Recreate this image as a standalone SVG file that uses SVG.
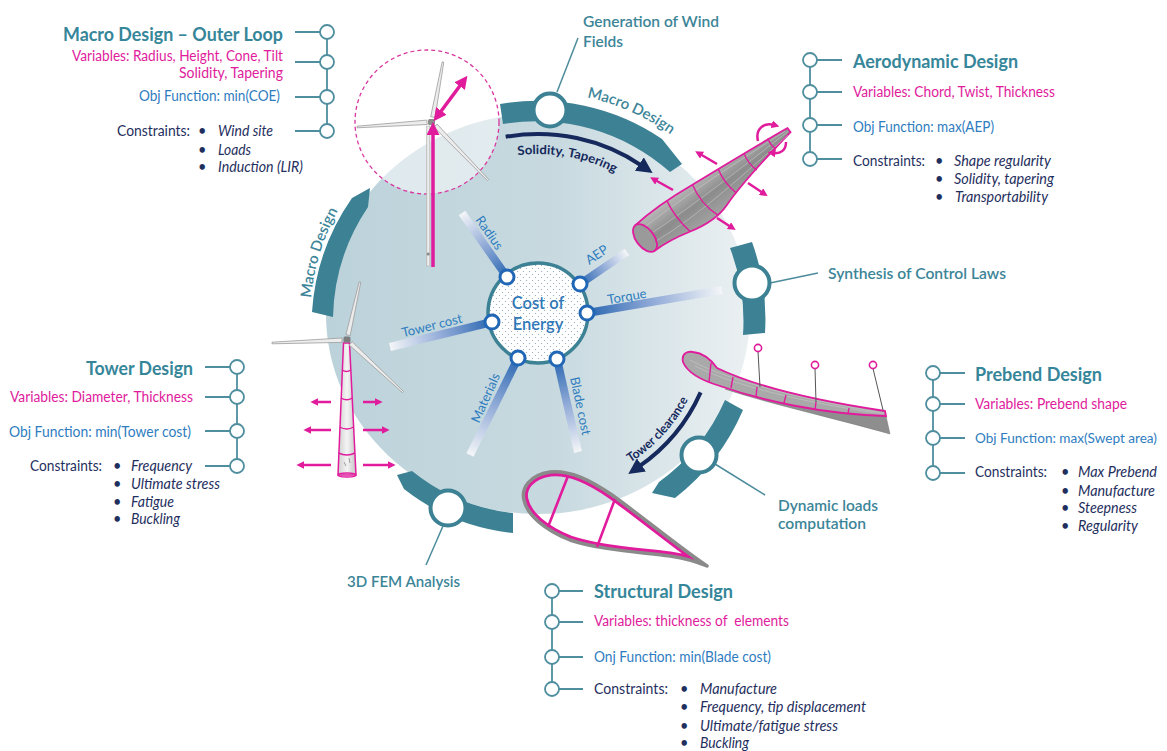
<svg xmlns="http://www.w3.org/2000/svg" width="1167" height="751" viewBox="0 0 1167 751" font-family="Lato, 'Liberation Sans', sans-serif">
<defs>
<style>
.title{font-size:18px;font-weight:700;fill:#36869a}
.var{font-size:14.5px;fill:#e01b9c}
.obj{font-size:14.5px;fill:#2f7dbf}
.con{font-size:14.5px;fill:#1f2f5e}
.it{font-size:14.5px;fill:#1f2f5e;font-style:italic}
.lbl{font-size:16px;font-weight:600;fill:#3c8598}
.spk{font-size:13px;fill:#2f7dbf}
.arrtxt{font-size:12.5px;font-weight:700;fill:#15295c}
.stub{stroke:#4e8e9e;stroke-width:1.8;fill:none}
.dot{fill:#fff;stroke:#4e8e9e;stroke-width:1.8}
.band{fill:#3c8194}
.rnode{fill:#fff;stroke:#3c8194;stroke-width:4}
.lead{stroke:#4b8b9b;stroke-width:1.5;fill:none}
.mag{stroke:#e01b9c;stroke-width:2.5;fill:none}
.hubnode{fill:#fff;stroke:#2167b5;stroke-width:3}
.spoke{stroke-width:8;fill:none}
.blade{fill:#ececec;stroke:#9c9c9c;stroke-width:0.8}
.sect{stroke:#e01b9c;stroke-width:1.4;fill:none}
.mesh{stroke:#d0d0d0;stroke-width:0.6;fill:none;opacity:0.8}
</style>
<linearGradient id="diskFill" x1="0" y1="0.5" x2="1" y2="0.5">
<stop offset="0" stop-color="#bcd2da"/>
<stop offset="0.55" stop-color="#c8dae0"/>
<stop offset="1" stop-color="#ebf0f2"/>
</linearGradient>
<pattern id="dots" width="6" height="6" patternUnits="userSpaceOnUse">
<rect width="6" height="6" fill="#fff"/>
<circle cx="1.5" cy="1.5" r="0.6" fill="#8aa3b5"/>
<circle cx="4.5" cy="4.5" r="0.6" fill="#8aa3b5"/>
</pattern>
<linearGradient id="spBase">
<stop offset="0" stop-color="#2a67b1"/>
<stop offset="0.5" stop-color="#93acd8"/>
<stop offset="1" stop-color="#f4f6f8"/>
</linearGradient>
<linearGradient id="sp1" href="#spBase" gradientUnits="userSpaceOnUse" x1="507" y1="277" x2="462" y2="213"/>
<linearGradient id="sp2" href="#spBase" gradientUnits="userSpaceOnUse" x1="580" y1="284" x2="627" y2="252"/>
<linearGradient id="sp3" href="#spBase" gradientUnits="userSpaceOnUse" x1="587" y1="313" x2="722" y2="290"/>
<linearGradient id="sp4" href="#spBase" gradientUnits="userSpaceOnUse" x1="492" y1="322" x2="390" y2="347"/>
<linearGradient id="sp5" href="#spBase" gradientUnits="userSpaceOnUse" x1="518" y1="358" x2="470" y2="455"/>
<linearGradient id="sp6" href="#spBase" gradientUnits="userSpaceOnUse" x1="557" y1="359" x2="578" y2="452"/>
<linearGradient id="bladeGray" x1="0" y1="0" x2="0" y2="1">
<stop offset="0" stop-color="#b8b8b8"/>
<stop offset="0.5" stop-color="#8c8c8c"/>
<stop offset="1" stop-color="#a2a2a2"/>
</linearGradient>
<linearGradient id="towerGray" x1="0" y1="0" x2="1" y2="0">
<stop offset="0" stop-color="#cfcfcf"/>
<stop offset="0.5" stop-color="#f4f4f4"/>
<stop offset="1" stop-color="#c4c4c4"/>
</linearGradient>
<clipPath id="foilClip">
<path d="M707,566 C680,548 640,515 612,495 C590,480 570,470 550,472 C530,475 521,488 524,500 C527,515 545,530 570,540 C600,550 640,552 670,556 C690,559 700,563 707,566 Z"/>
</clipPath>
<marker id="mg" viewBox="0 0 10 10" refX="3" refY="5" markerWidth="8" markerHeight="8" markerUnits="userSpaceOnUse" orient="auto-start-reverse">
<path d="M0,0 L10,5 L0,10 Z" fill="#e01b9c"/>
</marker>
<marker id="mgL" viewBox="0 0 10 10" refX="3" refY="5" markerWidth="13" markerHeight="13" markerUnits="userSpaceOnUse" orient="auto-start-reverse">
<path d="M0,0 L10,5 L0,10 Z" fill="#e01b9c"/>
</marker>
<marker id="nv" viewBox="0 0 10 10" refX="2" refY="5" markerWidth="16" markerHeight="16" markerUnits="userSpaceOnUse" orient="auto">
<path d="M0,0 L10,5 L0,10 Z" fill="#15295c"/>
</marker>
<path id="arcMacroTop" d="M587,97.3 A228,228 0 0 1 690.6,150.6"/>
<path id="arcMacroLeft" d="M311.1,298.1 A228,228 0 0 1 351.2,189.2"/>
<path id="arcSol" d="M517.8,155.2 A166,166 0 0 1 630.8,182.4"/>
<path id="arcTC" d="M630.6,462.6 A170,170 0 0 0 695.6,383.7"/>
</defs>

<rect width="1167" height="751" fill="#fff"/>

<!-- main disk -->
<g id="disk">
<ellipse cx="538" cy="314" rx="212" ry="200" fill="url(#diskFill)"/>
</g>

<!-- swept-area circle of the rotor -->
<g id="swept-area">
<circle cx="427" cy="122" r="72" fill="#fff" fill-opacity="0.5" stroke="#d8379f" stroke-width="1.3" stroke-dasharray="4 3"/>
</g>

<!-- outer ring segments -->
<g id="ring">
<path class="band" d="M500,104 A221,221 0 0 1 662,139 L682,164 L670,172 A201,201 0 0 0 503,124 Z"/>
<path class="band" d="M312,312 A225,225 0 0 1 352,198 L370,188 L368,207 A205,205 0 0 0 333,317 Z"/>
<path class="band" d="M752,242 A227,227 0 0 1 765,333 L743,335 A205,205 0 0 0 730,248 Z"/>
<path class="band" d="M743,410 A223,223 0 0 1 675,498 L652,493 L659,482 A201,201 0 0 0 725,400 Z"/>
<path class="band" d="M513,533 A212,212 0 0 1 404,489 L397,475 L412,471 A195,195 0 0 0 513,513 Z"/>
<text class="lbl" style="font-size:15px"><textPath href="#arcMacroTop" textLength="92" lengthAdjust="spacingAndGlyphs">Macro Design</textPath></text>
<text class="lbl" style="font-size:15px"><textPath href="#arcMacroLeft" textLength="92" lengthAdjust="spacingAndGlyphs">Macro Design</textPath></text>
</g>

<!-- connectors: leader lines and hub spokes -->
<g id="connectors">
<line class="lead" x1="557" y1="92" x2="578" y2="38"/>
<line class="lead" x1="770" y1="283" x2="818" y2="273"/>
<line class="lead" x1="715" y1="464" x2="765" y2="495"/>
<line class="lead" x1="443" y1="526" x2="426" y2="565"/>
<line class="spoke" stroke="url(#sp1)" x1="507" y1="277" x2="462" y2="213"/>
<line class="spoke" stroke="url(#sp2)" x1="580" y1="284" x2="627" y2="252"/>
<line class="spoke" stroke="url(#sp3)" x1="587" y1="313" x2="722" y2="290"/>
<line class="spoke" stroke="url(#sp4)" x1="492" y1="322" x2="390" y2="347"/>
<line class="spoke" stroke="url(#sp5)" x1="518" y1="358" x2="470" y2="455"/>
<line class="spoke" stroke="url(#sp6)" x1="557" y1="359" x2="578" y2="452"/>
</g>

<!-- ring stations -->
<g id="node-wind-fields">
<circle class="rnode" cx="550" cy="110" r="16.5"/>
<text class="lbl" x="583" y="26.5" textLength="136" lengthAdjust="spacingAndGlyphs">Generation of Wind</text>
<text class="lbl" x="583" y="46.5" textLength="40" lengthAdjust="spacingAndGlyphs">Fields</text>
</g>
<g id="node-control-laws">
<circle class="rnode" cx="752" cy="283" r="17.5"/>
<text class="lbl" x="828" y="279" textLength="178" lengthAdjust="spacingAndGlyphs">Synthesis of Control Laws</text>
</g>
<g id="node-dynamic-loads">
<circle class="rnode" cx="699" cy="455" r="17.5"/>
<text class="lbl" x="778" y="510.5" textLength="100" lengthAdjust="spacingAndGlyphs">Dynamic loads</text>
<text class="lbl" x="778" y="528.5" textLength="88" lengthAdjust="spacingAndGlyphs">computation</text>
</g>
<g id="node-fem">
<circle class="rnode" cx="448" cy="508" r="17.5"/>
<text class="lbl" x="347" y="586.5" textLength="113" lengthAdjust="spacingAndGlyphs">3D FEM Analysis</text>
</g>

<!-- central hub -->
<g id="hub">
<circle cx="538" cy="313" r="50" fill="url(#dots)" stroke="#3c8194" stroke-width="3.5"/>
<text x="538" y="309" text-anchor="middle" font-size="16.5" font-weight="600" fill="#2f78b8">Cost of</text>
<text x="538" y="329.5" text-anchor="middle" font-size="16.5" font-weight="600" fill="#2f78b8">Energy</text>
<circle class="hubnode" cx="507" cy="277" r="7"/>
<circle class="hubnode" cx="580" cy="284" r="7"/>
<circle class="hubnode" cx="587" cy="313" r="7"/>
<circle class="hubnode" cx="492" cy="322" r="7"/>
<circle class="hubnode" cx="518" cy="358" r="7"/>
<circle class="hubnode" cx="557" cy="359" r="7"/>
<text class="spk" text-anchor="middle" dy="4" transform="translate(489,233) rotate(55)">Radius</text>
<text class="spk" text-anchor="middle" dy="4" transform="translate(597,255) rotate(-34)">AEP</text>
<text class="spk" text-anchor="middle" dy="4" transform="translate(627,297) rotate(-10)">Torque</text>
<text class="spk" text-anchor="middle" dy="4" transform="translate(432,326) rotate(-14)">Tower cost</text>
<text class="spk" text-anchor="middle" dy="4" transform="translate(486,398) rotate(-66)">Materials</text>
<text class="spk" text-anchor="middle" dy="4" transform="translate(580,406) rotate(78)">Blade cost</text>
</g>

<!-- curved arrows inside the disk -->
<g id="arrow-solidity">
<path d="M505.7,136.8 A186,186 0 0 1 642,165.8" stroke="#15295c" stroke-width="4" fill="none" marker-end="url(#nv)"/>
<text class="arrtxt"><textPath href="#arcSol" textLength="100" lengthAdjust="spacingAndGlyphs">Solidity, Tapering</textPath></text>
</g>
<g id="arrow-clearance">
<path d="M700.6,392.4 A178,178 0 0 1 638.8,466.7" stroke="#15295c" stroke-width="4" fill="none" marker-end="url(#nv)"/>
<text class="arrtxt"><textPath href="#arcTC" textLength="86" lengthAdjust="spacingAndGlyphs">Tower clearance</textPath></text>
</g>

<!-- rotor with radius and height arrows -->
<g id="rotor">
<rect x="426.5" y="126" width="3.5" height="140" fill="url(#towerGray)" stroke="#b0b0b0" stroke-width="0.5"/>
<circle cx="428.2" cy="254" r="1.6" fill="#8a8a8a"/>
<polygon class="blade" points="430.7,116.7 435.1,117.5 443.8,62.1 442.2,61.9"/>
<polygon class="blade" points="426.8,120.1 427.2,124.5 357,127.8 357,126.2"/>
<polygon class="blade" points="433.9,127.1 437.1,124.1 488.6,179.4 487.4,180.6"/>
<rect x="428" y="119" width="7" height="6" rx="1.5" fill="#8d8d8d"/>
<line x1="433" y1="267" x2="433" y2="131" stroke="#e01b9c" stroke-width="3.5" marker-end="url(#mgL)"/>
<line x1="439" y1="114" x2="462" y2="83" stroke="#e01b9c" stroke-width="3.5" marker-start="url(#mgL)" marker-end="url(#mgL)"/>
</g>

<!-- tower turbine -->
<g id="tower-turbine">
<polygon points="343.5,343 349.5,343 356,475 338,475" fill="url(#towerGray)" stroke="#e01b9c" stroke-width="1.5"/>
<path class="sect" d="M342.2,370 Q346.5,373 350.8,370 M341,398 Q347,401.5 352.2,398 M339.6,427 Q347,431 353.6,427 M338.4,453 Q347,457 355,453"/>
<ellipse cx="347" cy="475" rx="9" ry="2" fill="none" stroke="#e01b9c" stroke-width="1.3"/>
<path d="M344,462 l2,4 M349,458 l1,5" stroke="#888" stroke-width="0.8"/>
<polygon class="blade" points="350.2,335.6 345.9,334.6 359.2,281.8 360.8,282.2"/>
<polygon class="blade" points="341.9,338 342.1,342.4 272,343.8 272,342.2"/>
<polygon class="blade" points="349.2,345 352.2,341.8 403.5,391.4 402.5,392.6"/>
<rect x="343.5" y="336.5" width="7" height="6" rx="1.5" fill="#7d7d7d"/>
<line class="mag" x1="331" y1="402" x2="316" y2="402" marker-end="url(#mg)"/>
<line class="mag" x1="363" y1="402" x2="377" y2="402" marker-end="url(#mg)"/>
<line class="mag" x1="331" y1="430" x2="309" y2="430" marker-end="url(#mg)"/>
<line class="mag" x1="363" y1="430" x2="384" y2="430" marker-end="url(#mg)"/>
<line class="mag" x1="331" y1="465" x2="302" y2="465" marker-end="url(#mg)"/>
<line class="mag" x1="363" y1="465" x2="390" y2="465" marker-end="url(#mg)"/>
</g>

<!-- aerodynamic blade -->
<g id="aero-blade">
<g transform="translate(645,238) rotate(-37)">
<path d="M0,-16 C20,-18 45,-17 70,-14 C110,-10 150,-6 180,-2 L180,3 C150,8 115,13 85,23 C70,28 55,26 40,22 C25,18 10,16 0,16 Z" fill="url(#bladeGray)" stroke="#e01b9c" stroke-width="1.8"/>
<path class="mesh" d="M5,-9 C60,-10 120,-5 176,-1 M5,0 C60,3 120,2 178,1 M5,9 C60,15 120,8 176,4"/>
<path class="sect" d="M40,-17 Q36,2 40,22 M70,-14 Q65,6 72,26 M100,-11 Q96,3 100,19 M130,-8 Q127,2 130,13 M158,-5.5 Q156,1 158,8"/>
<ellipse cx="0" cy="0" rx="9" ry="16" fill="#9a9a9a" stroke="#e01b9c" stroke-width="1.8"/>
</g>
<line class="mag" x1="717" y1="164" x2="700" y2="154" marker-end="url(#mg)"/>
<line class="mag" x1="673" y1="190" x2="655" y2="180" marker-end="url(#mg)"/>
<line class="mag" x1="748" y1="183" x2="763" y2="193" marker-end="url(#mg)"/>
<line class="mag" x1="717" y1="218" x2="731" y2="227" marker-end="url(#mg)"/>
<path class="mag" d="M758,141 C755,129 764,122 774,125" marker-end="url(#mg)"/>
<path class="mag" d="M786,142 C786,150 781,154 773,153" marker-end="url(#mg)"/>
</g>

<!-- prebend blade -->
<g id="prebend-blade">
<path d="M725,389 C770,404 830,417 890,434 L886,416 C820,414 770,402 725,389 Z" fill="#8e8e8e" stroke="#777" stroke-width="0.5"/>
<path d="M683,362 C681,353 688,351 693,352 C702,353 710,358 717,368 C740,379 790,397 885,411 L886,416 C820,414 760,400 720,386 C700,380 687,372 683,362 Z" fill="#a9a9a9" stroke="#e01b9c" stroke-width="1.8"/>
<path class="mesh" d="M690,360 C720,376 780,396 884,413 M695,366 C725,381 785,400 884,414"/>
<path class="sect" d="M711,363 L709,382 M733,377 L731,388 M757,387 L756,397 M786,395 L784,403 M816,402 L815,410 M849,408 L848,414"/>
<line x1="758" y1="351.5" x2="760" y2="387" stroke="#555" stroke-width="1"/>
<line x1="815" y1="368.5" x2="816" y2="402" stroke="#555" stroke-width="1"/>
<line x1="873" y1="368.5" x2="883" y2="410" stroke="#555" stroke-width="1"/>
<circle cx="758" cy="348" r="3.6" fill="#fff" stroke="#e01b9c" stroke-width="1.6"/>
<circle cx="815" cy="365" r="3.6" fill="#fff" stroke="#e01b9c" stroke-width="1.6"/>
<circle cx="873" cy="365" r="3.6" fill="#fff" stroke="#e01b9c" stroke-width="1.6"/>
</g>

<!-- structural airfoil section -->
<g id="airfoil">
<path d="M707,566 C680,548 640,515 612,495 C590,480 570,470 550,472 C530,475 521,488 524,500 C527,515 545,530 570,540 C600,550 640,552 670,556 C690,559 700,563 707,566 Z" fill="none" stroke="#e01b9c" stroke-width="9" clip-path="url(#foilClip)"/>
<path d="M707,566 C680,548 640,515 612,495 C590,480 570,470 550,472 C530,475 521,488 524,500 C527,515 545,530 570,540 C600,550 640,552 670,556 C690,559 700,563 707,566 Z" fill="none" stroke="#8a8a8a" stroke-width="3.5" stroke-linejoin="round"/>
<line x1="568" y1="476" x2="548" y2="527" stroke="#e01b9c" stroke-width="2.6"/>
<line x1="615" y1="499" x2="597" y2="547" stroke="#e01b9c" stroke-width="2.6"/>
</g>

<!-- design blocks -->
<g id="macro-design">
<path class="stub" d="M327,32 V131 M295,32 H320 M295,62 H320 M295,97 H320 M295,131 H320"/>
<circle class="dot" cx="327" cy="32" r="7"/>
<circle class="dot" cx="327" cy="62" r="7"/>
<circle class="dot" cx="327" cy="97" r="7"/>
<circle class="dot" cx="327" cy="131" r="7"/>
<text class="title" x="63" y="40.5" textLength="220" lengthAdjust="spacingAndGlyphs">Macro Design – Outer Loop</text>
<text class="var" x="72" y="61" textLength="211" lengthAdjust="spacingAndGlyphs">Variables: Radius, Height, Cone, Tilt</text>
<text class="var" x="179" y="78" textLength="104" lengthAdjust="spacingAndGlyphs">Solidity, Tapering</text>
<text class="obj" x="139" y="101" textLength="141" lengthAdjust="spacingAndGlyphs">Obj Function: min(COE)</text>
<text class="con" x="117" y="136" textLength="73" lengthAdjust="spacingAndGlyphs">Constraints:</text>
<text class="con" x="198" y="136">•</text>
<text class="con" x="198" y="155">•</text>
<text class="con" x="198" y="172">•</text>
<text class="it" x="218" y="136" textLength="55" lengthAdjust="spacingAndGlyphs">Wind site</text>
<text class="it" x="218" y="155" textLength="33" lengthAdjust="spacingAndGlyphs">Loads</text>
<text class="it" x="218" y="172" textLength="85" lengthAdjust="spacingAndGlyphs">Induction (LIR)</text>
</g>

<g id="aerodynamic-design">
<path class="stub" d="M810,60 V159 M817,60 H842 M817,92 H842 M817,125 H842 M817,159 H842"/>
<circle class="dot" cx="810" cy="60" r="7"/>
<circle class="dot" cx="810" cy="92" r="7"/>
<circle class="dot" cx="810" cy="125" r="7"/>
<circle class="dot" cx="810" cy="159" r="7"/>
<text class="title" x="853" y="68" textLength="165" lengthAdjust="spacingAndGlyphs">Aerodynamic Design</text>
<text class="var" x="853" y="97" textLength="202" lengthAdjust="spacingAndGlyphs">Variables: Chord, Twist, Thickness</text>
<text class="obj" x="853" y="131.5" textLength="141" lengthAdjust="spacingAndGlyphs">Obj Function: max(AEP)</text>
<text class="con" x="853" y="166" textLength="72" lengthAdjust="spacingAndGlyphs">Constraints:</text>
<text class="con" x="935" y="166">•</text>
<text class="con" x="935" y="184">•</text>
<text class="con" x="935" y="201.5">•</text>
<text class="it" x="954" y="166" textLength="97" lengthAdjust="spacingAndGlyphs">Shape regularity</text>
<text class="it" x="954" y="184" textLength="100" lengthAdjust="spacingAndGlyphs">Solidity, tapering</text>
<text class="it" x="955" y="201.5" textLength="93" lengthAdjust="spacingAndGlyphs">Transportability</text>
</g>

<g id="prebend-design">
<path class="stub" d="M933,373 V473 M940,373 H965 M940,404 H965 M940,438 H965 M940,473 H965"/>
<circle class="dot" cx="933" cy="373" r="7"/>
<circle class="dot" cx="933" cy="404" r="7"/>
<circle class="dot" cx="933" cy="438" r="7"/>
<circle class="dot" cx="933" cy="473" r="7"/>
<text class="title" x="975" y="380.5" textLength="127" lengthAdjust="spacingAndGlyphs">Prebend Design</text>
<text class="var" x="975" y="409" textLength="152" lengthAdjust="spacingAndGlyphs">Variables: Prebend shape</text>
<text class="obj" x="975" y="443" style="font-size:12.5px" textLength="182" lengthAdjust="spacingAndGlyphs">Obj Function: max(Swept area)</text>
<text class="con" x="975" y="477" textLength="72" lengthAdjust="spacingAndGlyphs">Constraints:</text>
<text class="con" x="1061" y="477">•</text>
<text class="con" x="1061" y="495.5">•</text>
<text class="con" x="1061" y="513">•</text>
<text class="con" x="1061" y="530.5">•</text>
<text class="it" x="1078" y="477" textLength="79" lengthAdjust="spacingAndGlyphs">Max Prebend</text>
<text class="it" x="1078" y="495.5" textLength="77" lengthAdjust="spacingAndGlyphs">Manufacture</text>
<text class="it" x="1078" y="513" textLength="59" lengthAdjust="spacingAndGlyphs">Steepness</text>
<text class="it" x="1078" y="530.5" textLength="60" lengthAdjust="spacingAndGlyphs">Regularity</text>
</g>

<g id="tower-design">
<path class="stub" d="M237,367 V466 M205,367 H230 M205,397 H230 M205,431 H230 M205,466 H230"/>
<circle class="dot" cx="237" cy="367" r="7"/>
<circle class="dot" cx="237" cy="397" r="7"/>
<circle class="dot" cx="237" cy="431" r="7"/>
<circle class="dot" cx="237" cy="466" r="7"/>
<text class="title" x="86" y="375" textLength="107" lengthAdjust="spacingAndGlyphs">Tower Design</text>
<text class="var" x="10" y="402" textLength="183" lengthAdjust="spacingAndGlyphs">Variables: Diameter, Thickness</text>
<text class="obj" x="9" y="436.5" textLength="182" lengthAdjust="spacingAndGlyphs">Obj Function: min(Tower cost)</text>
<text class="con" x="30" y="471" textLength="72" lengthAdjust="spacingAndGlyphs">Constraints:</text>
<text class="con" x="113" y="471">•</text>
<text class="con" x="113" y="489">•</text>
<text class="con" x="113" y="506.5">•</text>
<text class="con" x="113" y="524">•</text>
<text class="it" x="131" y="471" textLength="61" lengthAdjust="spacingAndGlyphs">Frequency</text>
<text class="it" x="131" y="489" textLength="89" lengthAdjust="spacingAndGlyphs">Ultimate stress</text>
<text class="it" x="131" y="506.5" textLength="43" lengthAdjust="spacingAndGlyphs">Fatigue</text>
<text class="it" x="131" y="524" textLength="49" lengthAdjust="spacingAndGlyphs">Buckling</text>
</g>

<g id="structural-design">
<path class="stub" d="M552,591 V689 M559,591 H583 M559,622 H583 M559,657 H583 M559,689 H583"/>
<circle class="dot" cx="552" cy="591" r="7"/>
<circle class="dot" cx="552" cy="622" r="7"/>
<circle class="dot" cx="552" cy="657" r="7"/>
<circle class="dot" cx="552" cy="689" r="7"/>
<text class="title" x="594" y="597.5" textLength="139" lengthAdjust="spacingAndGlyphs">Structural Design</text>
<text class="var" x="594" y="626" xml:space="preserve" textLength="195" lengthAdjust="spacingAndGlyphs">Variables: thickness of  elements</text>
<text class="obj" x="594" y="661.5" textLength="177" lengthAdjust="spacingAndGlyphs">Onj Function: min(Blade cost)</text>
<text class="con" x="594" y="694" textLength="74" lengthAdjust="spacingAndGlyphs">Constraints:</text>
<text class="con" x="680" y="694">•</text>
<text class="con" x="680" y="712">•</text>
<text class="con" x="680" y="730.5">•</text>
<text class="con" x="680" y="748">•</text>
<text class="it" x="700" y="694" textLength="77" lengthAdjust="spacingAndGlyphs">Manufacture</text>
<text class="it" x="700" y="712" textLength="166" lengthAdjust="spacingAndGlyphs">Frequency, tip displacement</text>
<text class="it" x="700" y="730.5" textLength="138" lengthAdjust="spacingAndGlyphs">Ultimate/fatigue stress</text>
<text class="it" x="700" y="748" textLength="49" lengthAdjust="spacingAndGlyphs">Buckling</text>
</g>
</svg>
